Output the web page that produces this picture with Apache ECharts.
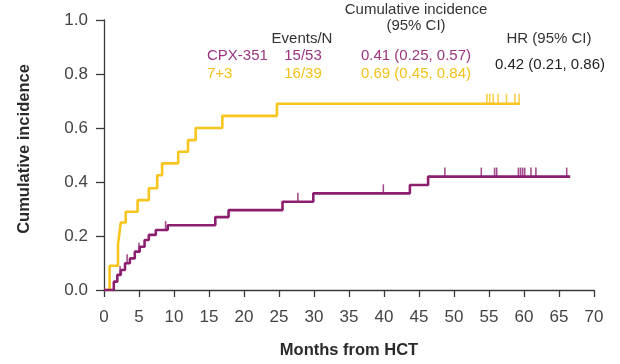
<!DOCTYPE html>
<html>
<head>
<meta charset="utf-8">
<script src="https://cdn.jsdelivr.net/npm/echarts@6/dist/echarts.min.js"></script>
<style>
html,body{margin:0;padding:0;background:#fff;}
#chart{width:620px;height:364px;}
</style>
</head>
<body>
<div id="chart"></div>
<script>
// ---- Data ----
const xTicks = [0,5,10,15,20,25,30,35,40,45,50,55,60,65,70];
const yTicks = [0.0,0.2,0.4,0.6,0.8,1.0];

// CPX-351 cumulative incidence step points [month, value]
const cpxCurve = [
  [0,0],[1.4,0.031],[1.9,0.056],[2.4,0.074],[3.0,0.099],[3.7,0.117],[4.4,0.142],
  [5.1,0.160],[5.8,0.185],[6.4,0.204],[7.4,0.222],[9.1,0.240],[15.9,0.270],
  [17.8,0.296],[25.5,0.327],[29.9,0.358],[43.7,0.389],[46.3,0.420],[66.6,0.420]
];
const cpxCensor = [2.3,3.3,5.0,8.8,27.7,39.9,48.7,53.9,55.8,56.1,59.2,59.5,59.8,60.1,61.0,61.7,66.1];

// 7+3 cumulative incidence step points [month, value]
const tradCurve = [
  [0,0],[0.8,0.090],[2.0,0.170],[2.2,0.210],[2.4,0.250],[3.1,0.290],[4.8,0.333],
  [6.4,0.377],[7.6,0.425],[8.3,0.469],[10.6,0.512],[12.0,0.555],[13.1,0.600],
  [16.9,0.645],[24.7,0.690],[59.4,0.690]
];
const tradCensor = [54.7,55.1,55.6,56.3,57.5,58.7,59.3];

const groups = ['CPX-351','7+3'];
const eventsN = ['15/53','16/39'];
const cumInc = ['0.41 (0.25, 0.57)','0.69 (0.45, 0.84)'];
const hrText = '0.42 (0.21, 0.86)';
const xTitle = 'Months from HCT';
const yTitle = 'Cumulative incidence';

// ---- Styling ----
const PURPLE = '#8c1f6e';
const YELLOW = '#f7c51e';
const PURPLE_TXT = '#9b3580';
const YELLOW_TXT = '#f2c21a';
const AX = '#3a3a3a';
const REG = '"Liberation Sans",Arial,sans-serif';

function valueAt(curve, t){
  let v = 0;
  for (const p of curve){ if (p[0] <= t) v = p[1]; }
  return v;
}
const cpxCensorPts = cpxCensor.map(t => [t, valueAt(cpxCurve, t)]);
const tradCensorPts = tradCensor.map(t => [t, valueAt(tradCurve, t)]);

const chart = echarts.init(document.getElementById('chart'), null, {renderer:'canvas'});

function txt(text, x, y, color, align){
  return {type:'text', x:x, y:y, style:{text:text, fill:color, font:'15px ' + REG,
    align:align||'center', verticalAlign:'middle', textAlign:align||'center', textVerticalAlign:'middle'}};
}

const graphics = [
  txt('Cumulative incidence', 416, 10, '#333'),
  txt('(95% CI)', 416, 26, '#333'),
  txt('Events/N', 302, 39, '#333'),
  txt('HR (95% CI)', 549, 39, '#333'),
  txt(groups[0], 207, 56, PURPLE_TXT, 'left'),
  txt(eventsN[0], 303, 56, PURPLE_TXT),
  txt(cumInc[0], 416, 56, PURPLE_TXT),
  txt(groups[1], 207, 74, YELLOW_TXT, 'left'),
  txt(eventsN[1], 303, 74, YELLOW_TXT),
  txt(cumInc[1], 416, 74, YELLOW_TXT),
  txt(hrText, 550, 65, '#222'),
  {type:'text', x:24, y:149, rotation:Math.PI/2,
    style:{text:yTitle, fill:'#2a2a2a', font:'bold 16.5px ' + REG,
      align:'center', verticalAlign:'middle', textAlign:'center', textVerticalAlign:'middle'}}
];

chart.setOption({
  animation:false,
  backgroundColor:'#fff',
  grid:{left:104, right:26, top:20, bottom:74, containLabel:false},
  xAxis:{
    type:'value', min:0, max:70, interval:5,
    name:xTitle, nameLocation:'middle', nameGap:52,
    nameTextStyle:{fontFamily:REG, fontWeight:'bold', fontSize:16.5, color:'#2a2a2a'},
    axisLine:{show:true, lineStyle:{color:AX, width:1.3}},
    axisTick:{show:true, inside:false, length:7, lineStyle:{color:AX, width:1.3}},
    axisLabel:{margin:19, fontFamily:REG, fontSize:17, color:'#444',
      formatter:(v)=>String(v)},
    splitLine:{show:false}
  },
  yAxis:{
    type:'value', min:0, max:1, interval:0.2,
    axisLine:{show:true, lineStyle:{color:AX, width:1.3}},
    axisTick:{show:true, inside:false, length:8, lineStyle:{color:AX, width:1.3}},
    axisLabel:{margin:16, fontFamily:REG, fontSize:17, color:'#444',
      formatter:(v)=>v.toFixed(1)},
    splitLine:{show:false}
  },
  graphic:graphics,
  series:[
    {type:'line', name:groups[1], data:tradCurve, step:'end', showSymbol:false, symbol:'none',
      lineStyle:{color:YELLOW, width:2.6}, z:3},
    {type:'line', name:groups[0], data:cpxCurve, step:'end', showSymbol:false, symbol:'none',
      lineStyle:{color:PURPLE, width:2.6}, z:4},
    {type:'scatter', data:tradCensorPts, symbol:'rect', symbolSize:[1.6,10], symbolOffset:[0,-5],
      itemStyle:{color:YELLOW}, z:5, silent:true},
    {type:'scatter', data:cpxCensorPts, symbol:'rect', symbolSize:[1.6,9], symbolOffset:[0,-4.5],
      itemStyle:{color:PURPLE}, z:6, silent:true}
  ]
});
</script>
</body>
</html>
